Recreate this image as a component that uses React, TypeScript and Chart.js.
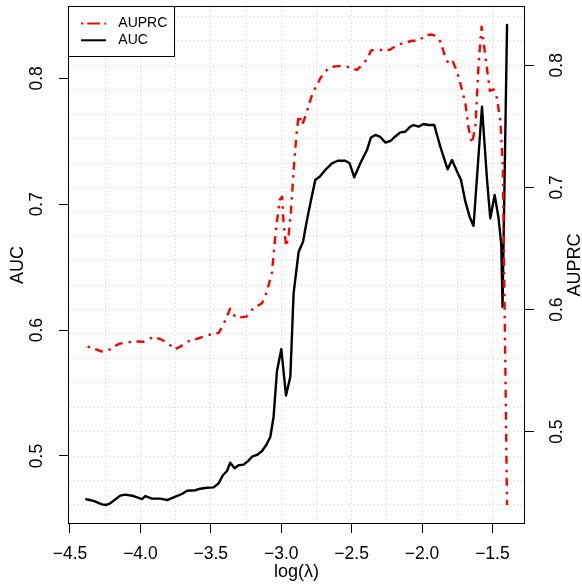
import React, { useEffect, useRef } from 'react';
import { Chart, registerables } from 'chart.js';

Chart.register(...registerables);

// ---- data ----
const aucLogLambda = [
  -4.384, -4.332, -4.273, -4.242, -4.214, -4.143, -4.107, -4.048, -3.989, -3.965,
  -3.918, -3.859, -3.811, -3.764, -3.705, -3.669, -3.610, -3.575, -3.527, -3.480,
  -3.445, -3.413, -3.385, -3.362, -3.331, -3.303, -3.267, -3.232, -3.207, -3.172,
  -3.136, -3.106, -3.077, -3.054, -3.030, -2.999, -2.966, -2.935, -2.912, -2.876,
  -2.845, -2.817, -2.788, -2.758, -2.727, -2.687, -2.639, -2.599, -2.545, -2.514,
  -2.481, -2.438, -2.391, -2.362, -2.332, -2.296, -2.261, -2.225, -2.190, -2.154,
  -2.119, -2.083, -2.060, -2.024, -1.989, -1.953, -1.913, -1.870, -1.818, -1.787,
  -1.756, -1.723, -1.692, -1.662, -1.634, -1.574, -1.538, -1.515, -1.484, -1.456,
  -1.437, -1.428, -1.396,
];
const aucValues = [
  0.4656, 0.4643, 0.4616, 0.4611, 0.4624, 0.4685, 0.4693, 0.4682, 0.4658, 0.4682,
  0.4661, 0.4661, 0.4650, 0.4672, 0.4698, 0.4724, 0.4728, 0.4740, 0.4748, 0.4751,
  0.4783, 0.4849, 0.4881, 0.4947, 0.4902, 0.4926, 0.4931, 0.4963, 0.4994, 0.5008,
  0.5040, 0.5087, 0.5153, 0.5312, 0.5675, 0.5848, 0.5481, 0.5631, 0.6292, 0.6623,
  0.6702, 0.6875, 0.7033, 0.7192, 0.7218, 0.7272, 0.7325, 0.7345, 0.7345, 0.7325,
  0.7214, 0.7325, 0.7430, 0.7530, 0.7550, 0.7534, 0.7490, 0.7502, 0.7538, 0.7571,
  0.7576, 0.7616, 0.7629, 0.7616, 0.7637, 0.7629, 0.7629, 0.7457, 0.7277, 0.7351,
  0.7272, 0.7192, 0.7020, 0.6901, 0.6827, 0.7774, 0.7192, 0.6888, 0.7073, 0.6888,
  0.6676, 0.6186, 0.8423,
];
const auprcLogLambda = [
  -4.375, -4.320, -4.266, -4.214, -4.155, -4.095, -4.024, -3.977, -3.906, -3.859,
  -3.807, -3.756, -3.717, -3.669, -3.596, -3.551, -3.504, -3.445, -3.418, -3.385,
  -3.364, -3.326, -3.290, -3.248, -3.198, -3.136, -3.101, -3.065, -3.042, -3.030,
  -3.011, -2.994, -2.983, -2.964, -2.947, -2.930, -2.919, -2.907, -2.893, -2.876,
  -2.850, -2.825, -2.786, -2.758, -2.722, -2.675, -2.628, -2.585, -2.533, -2.497,
  -2.462, -2.426, -2.386, -2.362, -2.320, -2.273, -2.225, -2.178, -2.119, -2.071,
  -2.024, -1.977, -1.929, -1.894, -1.870, -1.835, -1.811, -1.780, -1.751, -1.723,
  -1.692, -1.669, -1.645, -1.621, -1.598, -1.577, -1.560, -1.540, -1.518, -1.490,
  -1.469, -1.444, -1.426, -1.396,
];
const auprcValues = [
  0.5696, 0.5677, 0.5653, 0.5675, 0.5718, 0.5732, 0.5739, 0.5737, 0.5776, 0.5759,
  0.5727, 0.5675, 0.5696, 0.5737, 0.5761, 0.5778, 0.5796, 0.5808, 0.5860, 0.5942,
  0.6007, 0.5939, 0.5937, 0.5942, 0.6011, 0.6052, 0.6147, 0.6308, 0.6597, 0.6720,
  0.6897, 0.6924, 0.6707, 0.6515, 0.6611, 0.6815, 0.7006, 0.7211, 0.7415, 0.7593,
  0.7515, 0.7593, 0.7740, 0.7812, 0.7894, 0.7962, 0.7989, 0.7994, 0.7989, 0.7975,
  0.7962, 0.8002, 0.8057, 0.8121, 0.8131, 0.8121, 0.8129, 0.8166, 0.8185, 0.8201,
  0.8201, 0.8246, 0.8252, 0.8234, 0.8193, 0.8070, 0.8011, 0.8029, 0.7945, 0.7831,
  0.7689, 0.7484, 0.7361, 0.7497, 0.8011, 0.8316, 0.8166, 0.7986, 0.7790, 0.7802,
  0.7736, 0.7552, 0.7184, 0.4400,
];

const xTickValues = [-4.5, -4.0, -3.5, -3.0, -2.5, -2.0, -1.5];
const xTickLabels = ['\u22124.5', '\u22124.0', '\u22123.5', '\u22123.0', '\u22122.5', '\u22122.0', '\u22121.5'];
const aucTickValues = [0.5, 0.6, 0.7, 0.8];
const aucTickLabels = ['0.5', '0.6', '0.7', '0.8'];
const auprcTickValues = [0.5, 0.6, 0.7, 0.8];
const auprcTickLabels = ['0.5', '0.6', '0.7', '0.8'];
const seriesNames = ['AUPRC', 'AUC'];
const xTitle = 'log(\u03bb)';
const aucTitle = 'AUC';
const auprcTitle = 'AUPRC';

const FONT = '"Liberation Sans", Arial, Helvetica, sans-serif';
const GRID = '#d3d3d3';
const CLEAR = 'rgba(0,0,0,0)';

function labelFor(values: number[], labels: string[], v: number): string {
  for (let i = 0; i < values.length; i++) {
    if (Math.abs(values[i] - v) < 1e-6) return labels[i];
  }
  return '';
}

function fixSize(prop: 'width' | 'height', size: number) {
  return (s: any) => {
    s[prop] = size;
    s.paddingTop = 0;
    s.paddingBottom = 0;
    s.paddingLeft = 0;
    s.paddingRight = 0;
  };
}

const overlayPlugin = {
  id: 'rOverlay',
  afterDraw(chart: any) {
    const ctx = chart.ctx as CanvasRenderingContext2D;
    const a = chart.chartArea;
    ctx.save();
    ctx.setLineDash([]);
    ctx.strokeStyle = '#000';
    ctx.lineWidth = 1;
    ctx.strokeRect(a.left - 0.5, a.top - 0.5, a.right - a.left + 1, a.bottom - a.top + 1);

    // legend
    const lx = a.left - 0.5;
    const ly = a.top - 0.5;
    ctx.fillStyle = '#fff';
    ctx.fillRect(lx, ly, 106, 50);
    ctx.strokeRect(lx, ly, 106, 50);
    const ds = chart.data.datasets;
    const rows = [ly + 17, ly + 33.8];
    ctx.font = '14px ' + FONT;
    ctx.textAlign = 'left';
    ctx.textBaseline = 'middle';
    ds.forEach((d: any, i: number) => {
      const y = rows[i];
      ctx.beginPath();
      ctx.strokeStyle = d.borderColor;
      ctx.lineWidth = 2;
      ctx.setLineDash(i === 0 ? [2.3, 4, 12.7, 4.3] : []);
      ctx.moveTo(lx + 12.5, y);
      ctx.lineTo(lx + 37.5, y);
      ctx.stroke();
      ctx.setLineDash([]);
      ctx.fillStyle = '#000';
      ctx.fillText(d.label, lx + 49.8, y);
    });

    // right axis title (reads bottom to top, as in R)
    ctx.font = '18px ' + FONT;
    ctx.fillStyle = '#000';
    ctx.textAlign = 'center';
    ctx.textBaseline = 'middle';
    ctx.translate(574.8, (a.top + a.bottom) / 2);
    ctx.rotate(-Math.PI / 2);
    ctx.fillText(auprcTitle, 0, 0);
    ctx.restore();
  },
};

export default function App() {
  const ref = useRef<HTMLCanvasElement | null>(null);

  useEffect(() => {
    if (!ref.current) return;
    const chart = new Chart(ref.current, {
      type: 'line',
      data: {
        datasets: [
          {
            label: seriesNames[0],
            data: auprcLogLambda.map((x, i) => ({ x, y: auprcValues[i] })),
            yAxisID: 'yAuprc',
            borderColor: '#FF0000',
            borderWidth: 2.4,
            borderDash: [2.5, 5.5, 8, 6],
            borderCapStyle: 'butt',
            borderJoinStyle: 'round',
            pointRadius: 0,
            tension: 0,
            fill: false,
          },
          {
            label: seriesNames[1],
            data: aucLogLambda.map((x, i) => ({ x, y: aucValues[i] })),
            yAxisID: 'yAuc',
            borderColor: '#000000',
            borderWidth: 2.4,
            borderCapStyle: 'round',
            borderJoinStyle: 'round',
            pointRadius: 0,
            tension: 0,
            fill: false,
          },
        ],
      },
      options: {
        animation: false,
        responsive: false,
        events: [],
        layout: { padding: { top: 7, left: 0, right: 0, bottom: 0 } },
        plugins: { legend: { display: false }, tooltip: { enabled: false } },
        scales: {
          x: {
            type: 'linear',
            position: 'bottom',
            min: -4.5071,
            max: -1.2756,
            afterBuildTicks: (s: any) => {
              const t = [];
              for (let i = 0; i <= 12; i++) t.push({ value: -4.5 + i * 0.25 });
              s.ticks = t;
            },
            afterFit: fixSize('height', 64),
            ticks: {
              autoSkip: false,
              minRotation: 0,
              maxRotation: 0,
              padding: 10.5,
              color: '#000',
              font: { family: FONT, size: 17.5 },
              callback: (v: any) => labelFor(xTickValues, xTickLabels, Number(v)),
            },
            grid: {
              drawOnChartArea: true,
              drawTicks: true,
              tickLength: 10,
              lineWidth: 1,
              color: (c: any) => (c.tick && Math.abs(c.tick.value + 4.5) < 1e-6 ? CLEAR : GRID),
              tickColor: (c: any) => (c.tick && labelFor(xTickValues, xTickLabels, c.tick.value) ? '#000' : CLEAR),
              tickWidth: 1,
            },
            border: { display: false, dash: [1, 3] },
            title: {
              display: true,
              text: xTitle,
              color: '#000',
              font: { family: FONT, size: 18 },
              padding: { top: 0, bottom: 3.9 },
            },
          },
          yAuc: {
            type: 'linear',
            position: 'left',
            min: 0.44677,
            max: 0.85665,
            afterBuildTicks: (s: any) => { s.ticks = aucTickValues.map((v) => ({ value: v })); },
            afterFit: fixSize('width', 69),
            ticks: {
              autoSkip: false,
              minRotation: 90,
              maxRotation: 90,
              crossAlign: 'center',
              padding: 9.6,
              color: '#000',
              font: { family: FONT, size: 17.5 },
              callback: (v: any) => labelFor(aucTickValues, aucTickLabels, Number(v)),
            },
            grid: {
              drawOnChartArea: false,
              drawTicks: true,
              tickLength: 10,
              color: '#000',
              tickColor: '#000',
              tickWidth: 1,
            },
            border: { display: false },
            title: {
              display: true,
              text: aucTitle,
              color: '#000',
              font: { family: FONT, size: 18 },
              padding: { top: 7, bottom: 0 },
            },
          },
          yAuprc: {
            type: 'linear',
            position: 'right',
            min: 0.42524,
            max: 0.84774,
            afterBuildTicks: (s: any) => {
              const t = [];
              for (let i = 22; i <= 42; i++) t.push({ value: i / 50 });
              s.ticks = t;
            },
            afterFit: fixSize('width', 58),
            ticks: {
              autoSkip: false,
              minRotation: 90,
              maxRotation: 90,
              crossAlign: 'center',
              padding: 11,
              color: '#000',
              font: { family: FONT, size: 17.5 },
              callback: (v: any) => labelFor(auprcTickValues, auprcTickLabels, Number(v)),
            },
            grid: {
              drawOnChartArea: true,
              drawTicks: true,
              tickLength: 10,
              lineWidth: 1,
              color: GRID,
              tickColor: (c: any) => (c.tick && labelFor(auprcTickValues, auprcTickLabels, c.tick.value) ? '#000' : CLEAR),
              tickWidth: 1,
            },
            border: { display: false, dash: [1, 3] },
          },
        },
      } as any,
      plugins: [overlayPlugin],
    });
    return () => chart.destroy();
  }, []);

  return (
    <canvas
      ref={ref}
      width={582}
      height={587}
      style={{ position: 'fixed', left: 0, top: 0, display: 'block', background: '#fff' }}
    />
  );
}
